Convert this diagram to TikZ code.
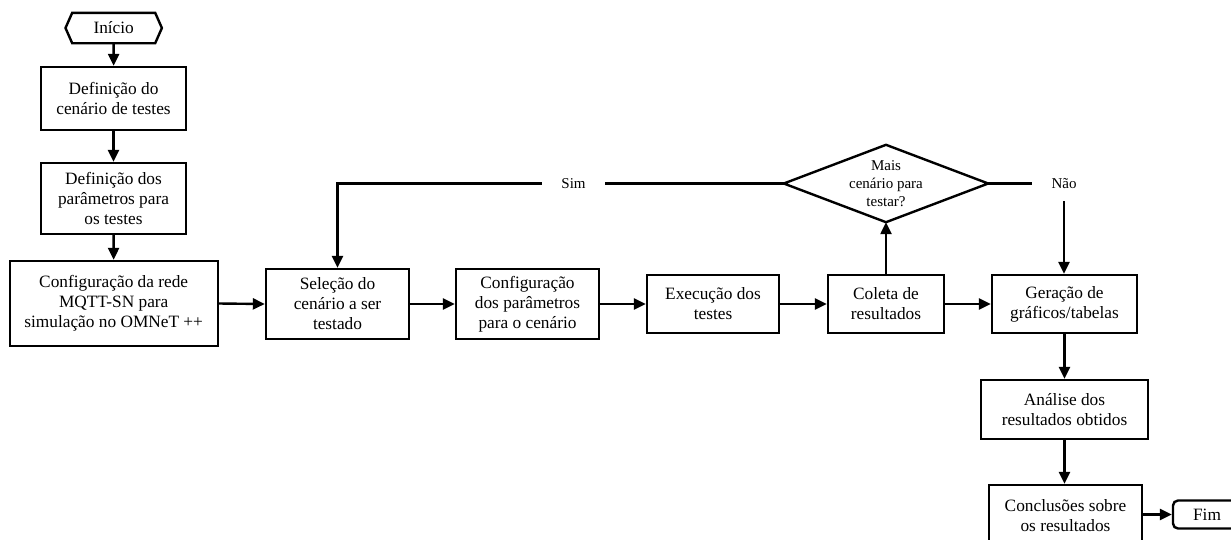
\documentclass[tikz,border=0pt]{standalone}
\usepackage{fontspec}
\setmainfont{Liberation Serif}
\usetikzlibrary{arrows.meta}
\newcommand\boxfont{\fontsize{17.3}{20}\selectfont}
\newcommand\notefont{\fontsize{15}{18}\selectfont}
\begin{document}
\begin{tikzpicture}[x=1pt,y=-1pt,line width=2.4pt,
  box/.style={draw, rectangle, inner sep=0pt, align=center, font=\boxfont},
  bare/.style={inner sep=0pt, align=center},
  flow/.style={-{Triangle[length=12pt,width=11pt]}},
]
\useasboundingbox (0,0) rectangle (1231,539);
\clip (0,0) rectangle (1231,539);

% start terminal (hexagon outline drawn around the node)
\node[bare, font=\boxfont, minimum width=94pt, minimum height=28pt] (ini) at (113.7,28) {Início};
\draw (ini.west) -- ([xshift=6.7pt]ini.north west) -- ([xshift=-6.7pt]ini.north east)
      -- (ini.east) -- ([xshift=-6.7pt]ini.south east) -- ([xshift=6.7pt]ini.south west) -- cycle;

% left column
\node[box, minimum width=145pt, minimum height=63pt] (def) at (113.5,98.5) {Definição do\\cenário de testes};
\node[box, minimum width=145pt, minimum height=71pt] (par) at (113.5,198.5) {Definição dos\\parâmetros para\\os testes};
\node[box, minimum width=208pt, minimum height=85pt] (rede) at (113.7,303.5) {Configuração da rede\\MQTT-SN para\\simulação no OMNeT ++};

% main row
\node[box, minimum width=143pt, minimum height=70pt] (sel) at (337.5,304) {Seleção do\\cenário a ser\\testado};
\node[box, minimum width=143pt, minimum height=70pt] (cfg) at (527.5,304) {Configuração\\dos parâmetros\\para o cenário};
\node[box, minimum width=132pt, minimum height=58pt] (exe) at (713,304) {Execução dos\\testes};
\node[box, minimum width=116pt, minimum height=58pt] (col) at (886,304) {Coleta de\\resultados};
\node[box, minimum width=145pt, minimum height=58pt] (ger) at (1064.5,304) {Geração de\\gráficos/tabelas};

% decision (diamond outline drawn around the node)
\node[bare, font=\notefont, minimum width=202pt, minimum height=75pt] (dec) at (886,183.5) {Mais\\cenário para\\testar?};
\draw (dec.west) -- (dec.north) -- (dec.east) -- (dec.south) -- cycle;

% branch labels
\node[bare, font=\notefont, minimum width=61pt, minimum height=14pt] (sim) at (573.5,183.5) {Sim};
\node[bare, font=\notefont, minimum width=62pt, minimum height=33pt] (nao) at (1064,183.5) {Não};

% right column
\node[box, minimum width=167pt, minimum height=59pt] (ana) at (1064.5,409.5) {Análise dos\\resultados obtidos};
\node[box, minimum width=153pt, minimum height=62pt] (con) at (1065.5,516) {Conclusões sobre\\os resultados};
\node[box, rounded corners=5pt, minimum width=68pt, minimum height=28pt] (fim) at (1207,514.5) {Fim};

% connectors
\draw[flow] (ini) -- (def);
\draw[flow] (def) -- (par);
\draw[flow] (par) -- (rede);
\draw[flow] (rede.east) -- (sel.west);
\draw[flow] (sel) -- (cfg);
\draw[flow] (cfg) -- (exe);
\draw[flow] (exe) -- (col);
\draw[flow] (col) -- (ger);
\draw[flow] (col.north) -- (dec.south);
\draw (dec.west) -- (sim.east);
\draw[flow] (sim.west) -| (sel.north);
\draw (dec.east) -- (nao.west);
\draw[flow] (nao.south) -- (nao.south |- ger.north);
\draw[flow] (ger.south) -- (ger.south |- ana.north);
\draw[flow] (ana.south) -- (ana.south |- con.north);
\draw[flow] (con.east |- fim.west) -- (fim.west);
\end{tikzpicture}
\end{document}
